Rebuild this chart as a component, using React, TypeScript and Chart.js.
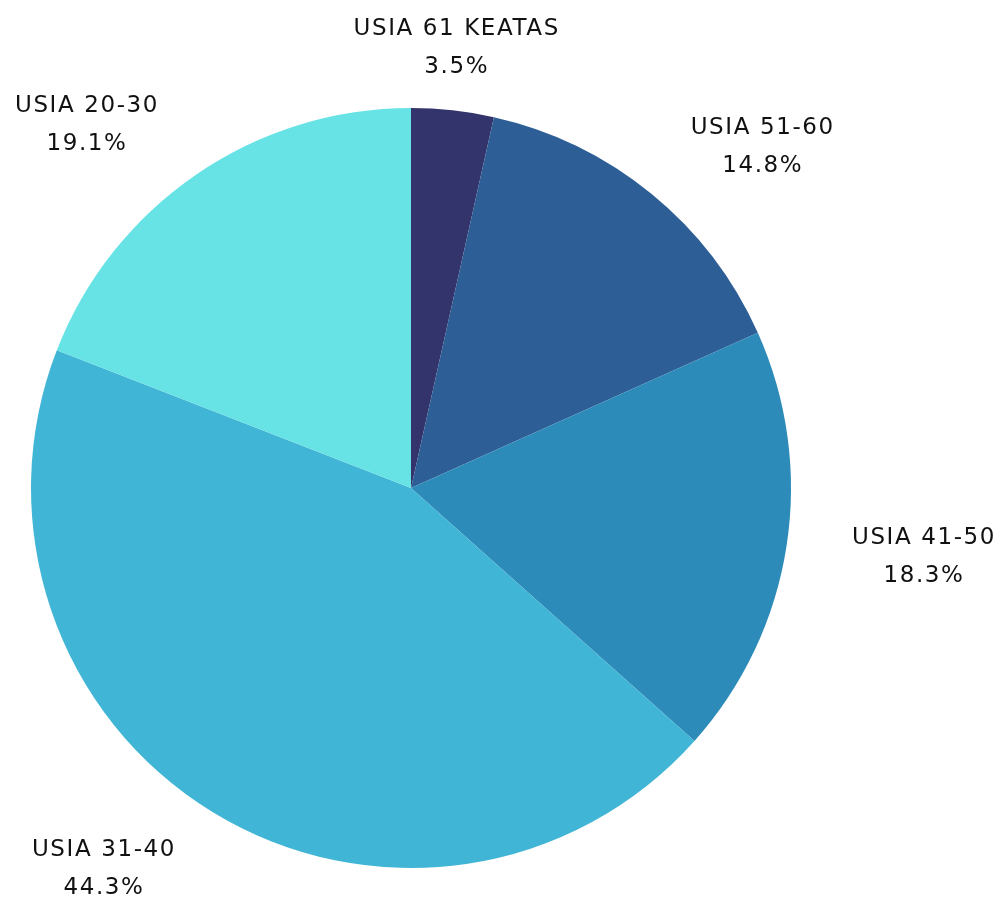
import React, { useEffect, useRef } from "react";
import { Chart, registerables } from "chart.js";

Chart.register(...registerables);

const categories = ["USIA 61 KEATAS", "USIA 51-60", "USIA 41-50", "USIA 31-40", "USIA 20-30"];
const values = [3.5, 14.8, 18.3, 44.3, 19.1];
const colors = ["#33346B", "#2E5E96", "#2D8BBA", "#41B5D5", "#67E3E6"];

const FONT = "23px 'DejaVu Sans', sans-serif";

const clamp01 = (v: number) => Math.max(0, Math.min(1, v));

const labelPlugin = {
  id: "outsideLabels",
  afterDraw(chart: any) {
    const ctx = chart.ctx;
    const meta = chart.getDatasetMeta(0);
    ctx.save();
    ctx.font = FONT;
    try {
      (ctx as any).letterSpacing = "1.6px";
    } catch (e) {}
    ctx.fillStyle = "#111111";
    ctx.textAlign = "center";
    ctx.textBaseline = "middle";
    const lineH = 38;
    meta.data.forEach((arc: any, i: number) => {
      const { x, y, startAngle, endAngle, outerRadius } = arc.getProps(
        ["x", "y", "startAngle", "endAngle", "outerRadius"],
        true
      );
      const mid = (startAngle + endAngle) / 2;
      const lines = [categories[i], values[i].toFixed(1) + "%"];
      const w = Math.max(...lines.map((l) => ctx.measureText(l).width));
      const h = lineH * 2;
      const ux = Math.cos(mid);
      const uy = Math.sin(mid);
      const ex = x + ux * outerRadius;
      const ey = y + uy * outerRadius;
      const fx = Math.sign(ux) * clamp01((Math.abs(ux) - 0.1) * 3);
      const fy = Math.sign(uy) * clamp01((Math.abs(uy) - 0.1) * 3);
      const gx = 34 + 33 * Math.pow(Math.abs(ux), 4);
      const gy = 25 * Math.pow(Math.abs(uy), 4) + (uy > 0 ? 6 : 0);
      const px = ex + fx * (w / 2 + gx);
      const py = ey + fy * (h / 2 + gy) + (uy > 0 && Math.abs(uy) < 0.5 ? 4 : 0);
      ctx.fillText(lines[0], px, py - lineH / 2);
      ctx.fillText(lines[1], px, py + lineH / 2);
    });
    ctx.restore();
  },
};

export default function App() {
  const ref = useRef<HTMLCanvasElement>(null);
  useEffect(() => {
    document.body.style.margin = "0";
    const chart = new Chart(ref.current!, {
      type: "pie",
      data: {
        labels: categories,
        datasets: [
          {
            data: values,
            backgroundColor: colors,
            borderWidth: 0,
          },
        ],
      },
      options: {
        animation: false,
        responsive: false,
        layout: { padding: { left: 31, right: 215, top: 108, bottom: 31 } },
        plugins: { legend: { display: false }, tooltip: { enabled: false } },
      },
      plugins: [labelPlugin],
    });
    return () => chart.destroy();
  }, []);
  return (
    <div style={{ position: "absolute", left: 0, top: 0, width: 1006, height: 899, background: "#fff" }}>
      <canvas ref={ref} width={1006} height={899} style={{ width: 1006, height: 899 }} />
    </div>
  );
}
